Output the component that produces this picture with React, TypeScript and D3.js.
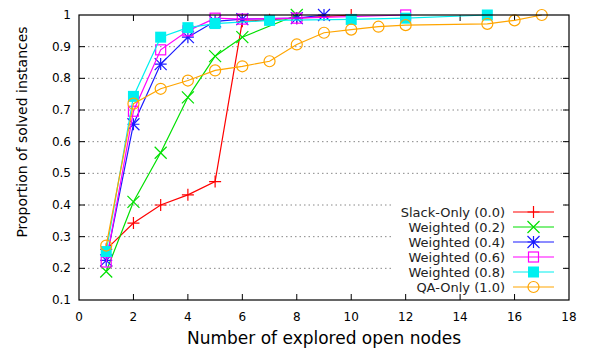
import * as d3 from 'd3';
import React, { useRef, useEffect } from 'react';

// values
const slackX = [1, 2, 3, 4, 5, 6, 7, 8, 10];
const slackY = [0.26, 0.343, 0.40, 0.432, 0.474, 0.98, 0.985, 0.99, 1.0];
const w02X = [1, 2, 3, 4, 5, 6, 8];
const w02Y = [0.19, 0.41, 0.565, 0.74, 0.87, 0.93, 1.0];
const w04X = [1, 2, 3, 4, 5, 6, 8, 9];
const w04Y = [0.225, 0.655, 0.845, 0.93, 0.98, 0.987, 0.99, 1.0];
const w06X = [1, 2, 3, 4, 5, 6, 8, 12];
const w06Y = [0.22, 0.696, 0.89, 0.95, 0.99, 0.987, 0.99, 1.0];
const w08X = [1, 2, 3, 4, 5, 7, 10, 12, 15];
const w08Y = [0.253, 0.743, 0.93, 0.96, 0.973, 0.983, 0.986, 0.99, 1.0];
const qaX = [1, 2, 3, 4, 5, 6, 7, 8, 9, 10, 11, 12, 15, 16, 17];
const qaY = [0.272, 0.72, 0.767, 0.793, 0.825, 0.838, 0.854, 0.907, 0.944, 0.954, 0.963, 0.968, 0.972, 0.983, 1.0];

const seriesNames = ['Slack-Only (0.0)', 'Weighted (0.2)', 'Weighted (0.4)', 'Weighted (0.6)', 'Weighted (0.8)', 'QA-Only (1.0)'];
const colors = ['#ff0000', '#00e000', '#1a1aff', '#ff00ff', '#00f0f0', '#ffa500'];
const markers = ['plus', 'cross', 'star', 'square', 'fsquare', 'circle'];
const xTicks = [0, 2, 4, 6, 8, 10, 12, 14, 16, 18];
const yTicks = [0.1, 0.2, 0.3, 0.4, 0.5, 0.6, 0.7, 0.8, 0.9, 1];

const W = 589, H = 350;
const font = 'DejaVu Sans, sans-serif';

function drawMarker(g, type, x, y, color) {
    const s = 6;
    if (type === 'plus') {
        g.append('path').attr('d', `M${x - s},${y}H${x + s}M${x},${y - s}V${y + s}`).attr('stroke', color).attr('stroke-width', 1.2);
    } else if (type === 'cross') {
        g.append('path').attr('d', `M${x - s},${y - s}L${x + s},${y + s}M${x - s},${y + s}L${x + s},${y - s}`).attr('stroke', color).attr('stroke-width', 1.2);
    } else if (type === 'star') {
        g.append('path').attr('d', `M${x - s},${y}H${x + s}M${x},${y - s}V${y + s}M${x - s},${y - s}L${x + s},${y + s}M${x - s},${y + s}L${x + s},${y - s}`).attr('stroke', color).attr('stroke-width', 1.2);
    } else if (type === 'square') {
        g.append('rect').attr('x', x - 5).attr('y', y - 5).attr('width', 10).attr('height', 10).attr('fill', 'none').attr('stroke', color).attr('stroke-width', 1.2);
    } else if (type === 'fsquare') {
        g.append('rect').attr('x', x - 5.5).attr('y', y - 5.5).attr('width', 11).attr('height', 11).attr('fill', color);
    } else {
        g.append('circle').attr('cx', x).attr('cy', y).attr('r', 5.5).attr('fill', 'none').attr('stroke', color).attr('stroke-width', 1.2);
    }
}

function Chart() {
    const ref = useRef(null);

    useEffect(() => {
        const svg = d3.select(ref.current);
        svg.selectAll('*').remove();

        const left = 79, right = 569, top = 15, bottom = 300;
        const x = d3.scaleLinear().domain([0, 18]).range([left, right]);
        const y = d3.scaleLinear().domain([0.1, 1]).range([bottom, top]);

        // grid
        svg.append('g').selectAll('line').data(yTicks.slice(1, -1)).enter().append('line')
            .attr('x1', left).attr('x2', right)
            .attr('y1', d => y(d)).attr('y2', d => y(d))
            .attr('stroke', '#888').attr('stroke-width', 1).attr('stroke-dasharray', '1.5,3');

        // legend background
        svg.append('rect').attr('x', 393).attr('y', 203).attr('width', 170).attr('height', 94).attr('fill', 'white');

        // ticks on all sides
        const tk = svg.append('g').attr('stroke', 'black').attr('stroke-width', 1);
        xTicks.slice(1, -1).forEach(t => {
            tk.append('line').attr('x1', x(t)).attr('x2', x(t)).attr('y1', bottom).attr('y2', bottom - 6);
            tk.append('line').attr('x1', x(t)).attr('x2', x(t)).attr('y1', top).attr('y2', top + 6);
        });
        yTicks.slice(1, -1).forEach(t => {
            tk.append('line').attr('x1', left).attr('x2', left + 6).attr('y1', y(t)).attr('y2', y(t));
            tk.append('line').attr('x1', right).attr('x2', right - 6).attr('y1', y(t)).attr('y2', y(t));
        });

        svg.append('g').selectAll('text').data(xTicks).enter().append('text')
            .attr('x', d => x(d)).attr('y', bottom + 21)
            .attr('text-anchor', 'middle').attr('font-family', font).attr('font-size', 12)
            .text(d => d);
        svg.append('g').selectAll('text').data(yTicks).enter().append('text')
            .attr('x', left - 8).attr('y', d => y(d) + 4)
            .attr('text-anchor', 'end').attr('font-family', font).attr('font-size', 12)
            .text(d => d);

        svg.append('text').attr('x', 324).attr('y', 344).attr('text-anchor', 'middle')
            .attr('font-family', font).attr('font-size', 17).text('Number of explored open nodes');
        svg.append('text').attr('transform', 'translate(27,132) rotate(-90)').attr('text-anchor', 'middle')
            .attr('font-family', font).attr('font-size', 14).text('Proportion of solved instances');

        const xs = [slackX, w02X, w04X, w06X, w08X, qaX];
        const ys = [slackY, w02Y, w04Y, w06Y, w08Y, qaY];
        const line = d3.line().x(d => x(d[0])).y(d => y(d[1]));

        xs.forEach((xv, i) => {
            const pts = xv.map((v, j) => [v, ys[i][j]]);
            const g = svg.append('g');
            g.append('path').attr('d', line(pts)).attr('fill', 'none').attr('stroke', colors[i]).attr('stroke-width', 1.2);
            pts.forEach(p => drawMarker(g, markers[i], x(p[0]), y(p[1]), colors[i]));
        });

        // legend
        const lg = svg.append('g');
        seriesNames.forEach((name, i) => {
            const ly = 212 + i * 15;
            lg.append('text').attr('x', 505).attr('y', ly + 4.5).attr('text-anchor', 'end')
                .attr('font-family', font).attr('font-size', 13).attr('fill', '#222').text(name);
            lg.append('line').attr('x1', 513).attr('x2', 554).attr('y1', ly).attr('y2', ly)
                .attr('stroke', colors[i]).attr('stroke-width', 1.2);
            drawMarker(lg, markers[i], 533.5, ly, colors[i]);
        });

        // border
        svg.append('rect').attr('x', left).attr('y', top).attr('width', right - left).attr('height', bottom - top)
            .attr('fill', 'none').attr('stroke', 'black').attr('stroke-width', 1.2);
    }, []);

    return <svg ref={ref} width={W} height={H} style={{ display: 'block', background: 'white' }} />;
}

export default function App() {
    return (
        <div style={{ position: 'fixed', left: 0, top: 0 }}>
            <Chart />
        </div>
    );
}
